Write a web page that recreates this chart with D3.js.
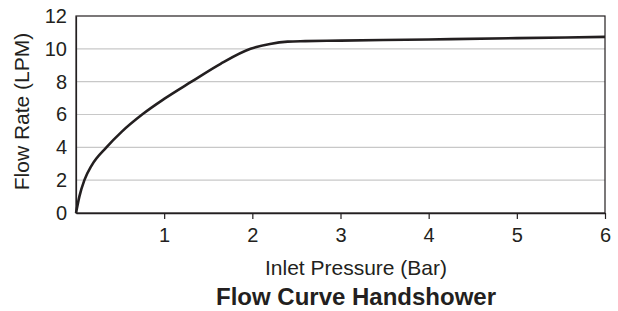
<!DOCTYPE html>
<html>
<head>
<meta charset="utf-8">
<script src="https://cdn.jsdelivr.net/npm/d3@7"></script>
<style>
  body { margin: 0; background: #ffffff; }
  svg { display: block; font-family: "Liberation Sans", Arial, sans-serif; }
</style>
</head>
<body>
<div id="chart"></div>
<script>
const pressure = [0, 0.038, 0.095, 0.18, 0.345, 0.52, 0.75, 1.0, 1.31, 1.64, 1.98, 2.2, 2.4, 2.6, 3, 4, 5, 6];
const flow = [0, 1.0, 2.0, 2.92, 4.0, 4.96, 6.0, 6.95, 8.0, 9.09, 10.0, 10.3, 10.44, 10.47, 10.5, 10.57, 10.65, 10.73];
const xTicks = [1, 2, 3, 4, 5, 6];
const yTicks = [0, 2, 4, 6, 8, 10, 12];
const xLabel = "Inlet Pressure (Bar)";
const yLabel = "Flow Rate (LPM)";
const title = "Flow Curve Handshower";

const width = 618, height = 311;
const margin = { left: 76, right: 13, top: 16, bottom: 98 };
const ink = "#231f20";

const svg = d3.select("#chart").append("svg")
    .attr("width", width)
    .attr("height", height);

const x = d3.scaleLinear().domain([0, 6]).range([margin.left, width - margin.right]);
const y = d3.scaleLinear().domain([0, 12]).range([height - margin.bottom, margin.top]);

// grid lines
svg.append("g")
    .selectAll("line")
    .data(yTicks.filter(d => d > 0 && d < 12))
    .join("line")
    .attr("x1", x(0))
    .attr("x2", x(6))
    .attr("y1", d => y(d))
    .attr("y2", d => y(d))
    .attr("stroke", "#c8c8c8")
    .attr("stroke-width", 1.2);

// frame
svg.append("rect")
    .attr("x", x(0))
    .attr("y", y(12))
    .attr("width", x(6) - x(0))
    .attr("height", y(0) - y(12))
    .attr("fill", "none")
    .attr("stroke", ink)
    .attr("stroke-width", 1.2);

// x axis
const gx = svg.append("g")
    .attr("transform", `translate(0,${y(0)})`)
    .call(d3.axisBottom(x).tickValues(xTicks).tickFormat(d3.format("d"))
        .tickSize(6).tickPadding(9).tickSizeOuter(0));
gx.select(".domain").attr("stroke", ink).attr("stroke-width", 1.5);
gx.selectAll(".tick line").attr("stroke", ink).attr("stroke-width", 1.2);
gx.selectAll(".tick text")
    .attr("fill", ink)
    .style("font-size", "20px")
    .style("font-family", "Liberation Sans, Arial, sans-serif");

// y axis
const gy = svg.append("g")
    .attr("transform", `translate(${x(0)},0)`)
    .call(d3.axisLeft(y).tickValues(yTicks).tickFormat(d3.format("d"))
        .tickSize(0).tickPadding(9));
gy.select(".domain").attr("stroke", ink).attr("stroke-width", 1.2);
gy.selectAll(".tick text")
    .attr("fill", ink)
    .style("font-size", "20px")
    .style("font-family", "Liberation Sans, Arial, sans-serif");

// flow curve
const line = d3.line()
    .x((d, i) => x(pressure[i]))
    .y(d => y(d))
    .curve(d3.curveMonotoneX);

svg.append("path")
    .datum(flow)
    .attr("d", line)
    .attr("fill", "none")
    .attr("stroke", ink)
    .attr("stroke-width", 2.6)
    .attr("stroke-linejoin", "round");

// labels
svg.append("text")
    .attr("x", 356)
    .attr("y", 275)
    .attr("text-anchor", "middle")
    .attr("fill", ink)
    .style("font-size", "21px")
    .text(xLabel);

svg.append("text")
    .attr("transform", `translate(29,${(y(0) + y(12)) / 2 - 3}) rotate(-90)`)
    .attr("text-anchor", "middle")
    .attr("fill", ink)
    .style("font-size", "21px")
    .text(yLabel);

svg.append("text")
    .attr("x", 356)
    .attr("y", 305)
    .attr("text-anchor", "middle")
    .attr("fill", ink)
    .style("font-size", "24px")
    .style("font-weight", "bold")
    .text(title);
</script>
</body>
</html>
